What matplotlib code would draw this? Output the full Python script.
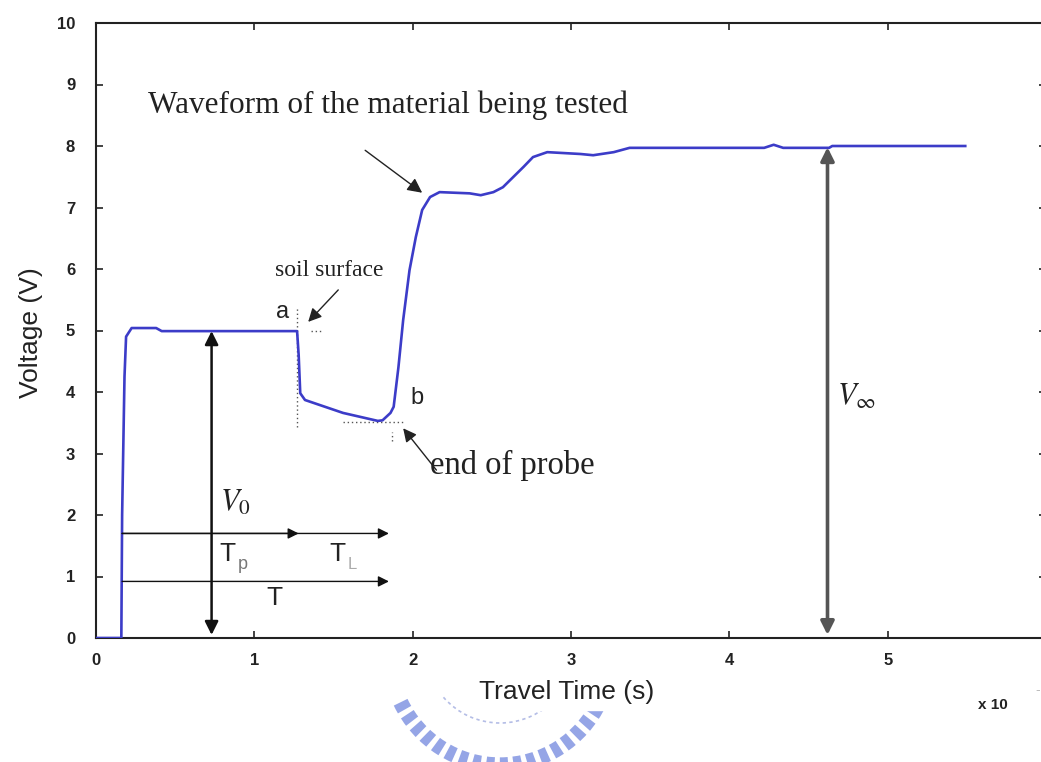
import matplotlib
matplotlib.use("Agg")
import matplotlib.pyplot as plt
from matplotlib.patches import Arc

# TDR waveform: travel time (x 1e-8 s) vs. voltage
t = [0.0, 0.16, 0.165, 0.18, 0.19, 0.225, 0.38, 0.415, 1.27,
     1.28, 1.29, 1.32, 1.56, 1.78, 1.81, 1.86, 1.88, 1.91, 1.94,
     1.98, 2.02, 2.06, 2.11, 2.17, 2.36, 2.43, 2.51, 2.57, 2.70,
     2.76, 2.85, 3.06, 3.14, 3.27, 3.37, 3.69, 4.22, 4.28, 4.34,
     4.63, 4.65, 5.49]
v = [0.0, 0.0, 2.0, 4.25, 4.9, 5.04, 5.04, 4.99, 4.99,
     4.6, 3.98, 3.87, 3.66, 3.53, 3.54, 3.66, 3.76, 4.4, 5.17,
     5.98, 6.52, 6.96, 7.17, 7.25, 7.23, 7.2, 7.25, 7.33, 7.66,
     7.82, 7.9, 7.87, 7.85, 7.9, 7.97, 7.97, 7.97, 8.02, 7.97,
     7.97, 8.0, 8.0]

x_ticks = [0, 1, 2, 3, 4, 5]
y_ticks = list(range(0, 11))

v0 = 4.99          # V0 level
v_inf = 8.0        # V-infinity level
t_start = 0.165    # launch of the pulse
t_a = 1.28         # point a, soil surface
t_b = 1.85         # point b, end of probe
x_v0 = 0.73
x_vinf = 4.62

W, H = 1041, 762
fig = plt.figure(figsize=(W / 100, H / 100), dpi=100)
fig.patch.set_facecolor("white")
ax = fig.add_axes([96 / W, 1 - 638 / H, (1046 - 96) / W, (638 - 23) / H])

sans = "Liberation Sans"
serif = "Liberation Serif"
ink = "#222222"

ax.plot(t, v, color="#3c3cc8", lw=1.9, zorder=3, solid_joinstyle="round")

ax.set_xlim(0, 6)
ax.set_ylim(0, 10)
ax.set_xticks(x_ticks)
ax.set_yticks(y_ticks)
ax.tick_params(direction="in", length=5, width=1.2, top=True, right=True,
               labelsize=12, colors=ink)
ax.tick_params(axis="x", pad=11)
ax.tick_params(axis="y", pad=15)
for lab in ax.get_xticklabels() + ax.get_yticklabels():
    lab.set_family(sans)
    lab.set_fontweight("bold")
for s in ax.spines.values():
    s.set_linewidth(1.5)
    s.set_color(ink)

ax.set_xlabel("Travel Time (s)", fontsize=19, family=sans, color=ink,
              backgroundcolor="white")
ax.xaxis.label.set_va("center")
ax.xaxis.set_label_coords((567 - 96) / 950, (638 - 692) / 615)
ax.set_ylabel("Voltage (V)", fontsize=19, family=sans, color=ink)
ax.yaxis.label.set_va("center")
ax.yaxis.set_label_coords((31 - 96) / 950, (638 - 333) / 615)

fig.text(993 / W, 1 - 705 / H, "x 10", fontsize=11, family=sans, weight="bold",
         ha="center", va="center", color=ink)
fig.text(1035 / W, 1 - 690 / H, "-", fontsize=10, family=sans,
         ha="left", va="center", color="#bbbbbb")

# vertical level arrows
ax.annotate("", xy=(x_v0, 0.05), xytext=(x_v0, v0),
            arrowprops=dict(arrowstyle="<|-|>", color="#111111", lw=1.8,
                            mutation_scale=20, shrinkA=0, shrinkB=0))
ax.annotate("", xy=(x_vinf, 0.05), xytext=(x_vinf, v_inf - 0.02),
            arrowprops=dict(arrowstyle="<|-|>", color="#555555", lw=2.6,
                            mutation_scale=20, shrinkA=0, shrinkB=0))

# time arrows
head = dict(arrowstyle="-|>", color="#111111", lw=1.0, mutation_scale=16,
            shrinkA=0, shrinkB=0)
ax.annotate("", xy=(t_b, 1.70), xytext=(t_start, 1.70), arrowprops=head)
ax.annotate("", xy=(t_a, 1.70), xytext=(t_start, 1.70), arrowprops=head)
ax.annotate("", xy=(t_b, 0.92), xytext=(t_start, 0.92), arrowprops=head)

# dotted markers at a and b
dot = dict(color="#555555", lw=1.0, ls=(0, (1, 2)), zorder=2)
ax.plot([1.27, 1.27], [3.43, 5.38], **dot)
ax.plot([1.36, 1.42], [4.99, 4.99], **dot)
ax.plot([1.56, 1.95], [3.52, 3.52], **dot)
ax.plot([1.87, 1.87], [3.2, 3.35], **dot)

# labels
ax.text(0.33, 8.67, "Waveform of the material being tested", family=serif,
        fontsize=22.5, va="center", ha="left", color=ink)
ax.annotate("", xy=(2.06, 7.24), xytext=(1.70, 7.93),
            arrowprops=dict(arrowstyle="-|>", color=ink, lw=1.0,
                            mutation_scale=22, shrinkA=0, shrinkB=0))
ax.text(1.13, 5.98, "soil surface", family=serif, fontsize=17, va="center",
        ha="left", color=ink)
ax.annotate("", xy=(1.34, 5.14), xytext=(1.53, 5.66),
            arrowprops=dict(arrowstyle="-|>", color=ink, lw=1.0,
                            mutation_scale=20, shrinkA=0, shrinkB=0))
ax.text(1.18, 5.3, "a", family=sans, fontsize=17, va="center", ha="center",
        color=ink)
ax.text(2.03, 3.9, "b", family=sans, fontsize=17, va="center", ha="center",
        color=ink)
ax.text(2.11, 2.81, "end of probe", family=serif, fontsize=23.5, va="center",
        ha="left", color=ink)
ax.annotate("", xy=(1.94, 3.41), xytext=(2.15, 2.73),
            arrowprops=dict(arrowstyle="-|>", color=ink, lw=1.0,
                            mutation_scale=20, shrinkA=0, shrinkB=0))

ax.text(0.88, 2.2, r"$V_0$", fontsize=22, va="center", ha="center",
        math_fontfamily="stix", color=ink)
ax.text(4.80, 3.93, r"$V_\infty$", fontsize=22, va="center", ha="center",
        math_fontfamily="stix", color=ink)
ax.text(0.83, 1.36, "T", family=sans, fontsize=19, va="center", ha="center",
        color=ink)
ax.text(0.925, 1.2, "p", family=sans, fontsize=13, va="center", ha="center",
        color="#777777")
ax.text(1.525, 1.36, "T", family=sans, fontsize=19, va="center", ha="center",
        color=ink)
ax.text(1.62, 1.2, "L", family=sans, fontsize=12, va="center", ha="center",
        color="#aaaaaa")
ax.text(1.13, 0.65, "T", family=sans, fontsize=19, va="center", ha="center",
        color=ink)

# striped emblem ring below the axis label
r_band, r_thin = 110, 75
fig.add_artist(Arc((500 / W, 1 - 655 / H), 2 * r_band / W, 2 * r_band / H,
                   theta1=213, theta2=327, transform=fig.transFigure,
                   color="#95a5e6", lw=11, ls=(0, (0.55, 0.35)), zorder=0))
fig.add_artist(Arc((500 / W, 1 - 648 / H), 2 * r_thin / W, 2 * r_thin / H,
                   theta1=230, theta2=310, transform=fig.transFigure,
                   color="#b4bde6", lw=1.2, ls=(0, (2, 2)), zorder=0))

fig.savefig("out.png", dpi=100, facecolor="white")
